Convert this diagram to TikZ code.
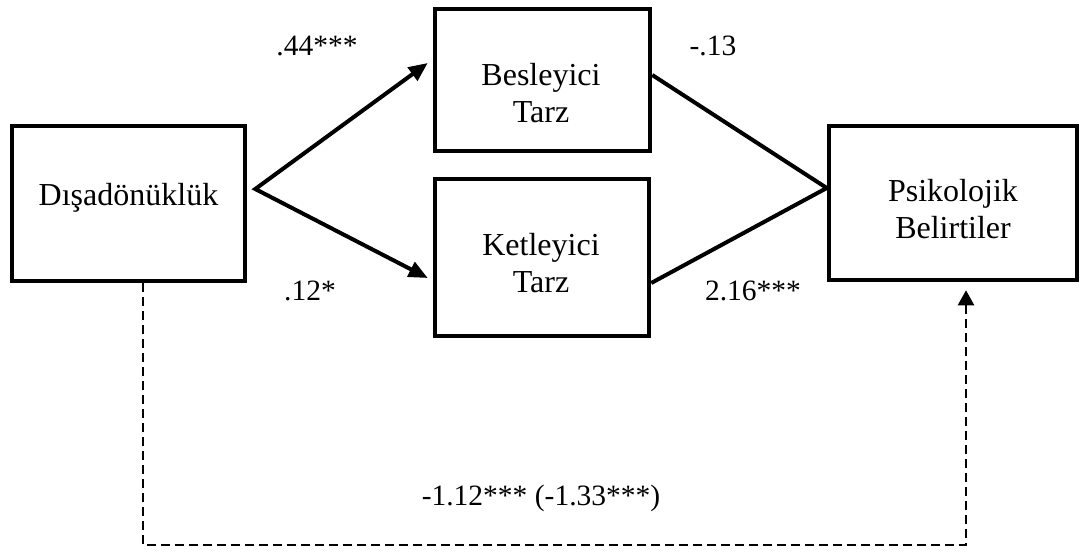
\documentclass[tikz,border=0pt]{standalone}
\usepackage{fontspec}
\setmainfont{Liberation Serif}
\usetikzlibrary{arrows.meta,calc}
\begin{document}
\begin{tikzpicture}[x=1pt,y=-1pt,
  box/.style={draw,line width=4.5pt,inner sep=0pt},
  txt/.style={font=\fontsize{32}{37}\selectfont,align=center,anchor=base,inner sep=0pt},
  lab/.style={font=\fontsize{29.5}{35}\selectfont,anchor=base,inner sep=0pt},
  solidline/.style={line width=4pt,line join=miter},
  tipA/.tip={Triangle[length=19pt,width=16pt]},
  dashconn/.style={line width=2.3pt,dash pattern=on 9pt off 5pt,-{Triangle[length=15pt,width=16pt]}}
]
\useasboundingbox (0,0) rectangle (1081,554);
% boxes
\node[box,minimum width=233pt,minimum height=155pt] (D) at (128.5,203.5) {};
\node[box,minimum width=215pt,minimum height=142pt] (B) at (542.5,80) {};
\node[box,minimum width=214pt,minimum height=157pt] (K) at (542,257.5) {};
\node[box,minimum width=248pt,minimum height=154pt] (P) at (953,203) {};
% box texts
\node[txt] (Dt) at (128.5,205) {Dışadönüklük};
\node[txt] (Bt) at (541,122) {Besleyici\\Tarz};
\node[txt] (Kt) at (541,292) {Ketleyici\\Tarz};
\node[txt] (Pt) at (953,238) {Psikolojik\\Belirtiler};
% fork
\coordinate (F) at ($(D.east)+(8,-14.5)$);
\draw[solidline,tipA-tipA] ($(B.west)+(-5,-17)$) -- (F) -- ($(K.west)+(-5,20.5)$);
% join
\coordinate (J) at ($(P.west)+(0,-15)$);
\draw[solidline] ($(B.east)+(0,-5)$) -- (J) -- ($(K.east)+(0,25.5)$);
% dashed direct path
\coordinate (c1) at (143,545);
\coordinate (c2) at (966,545);
\draw[dashconn,shorten >=8pt] (D.south -| c1) -- (c1) -- (c2) -- (P.south -| c2);
% labels
\node[lab] (l1) at (317,55) {.44***};
\node[lab] (l2) at (310,300) {.12*};
\node[lab] (l3) at (713,55) {-.13};
\node[lab] (l4) at (753,300) {2.16***};
\node[lab] (l5) at (541,505) {-1.12*** (-1.33***)};
\end{tikzpicture}
\end{document}
